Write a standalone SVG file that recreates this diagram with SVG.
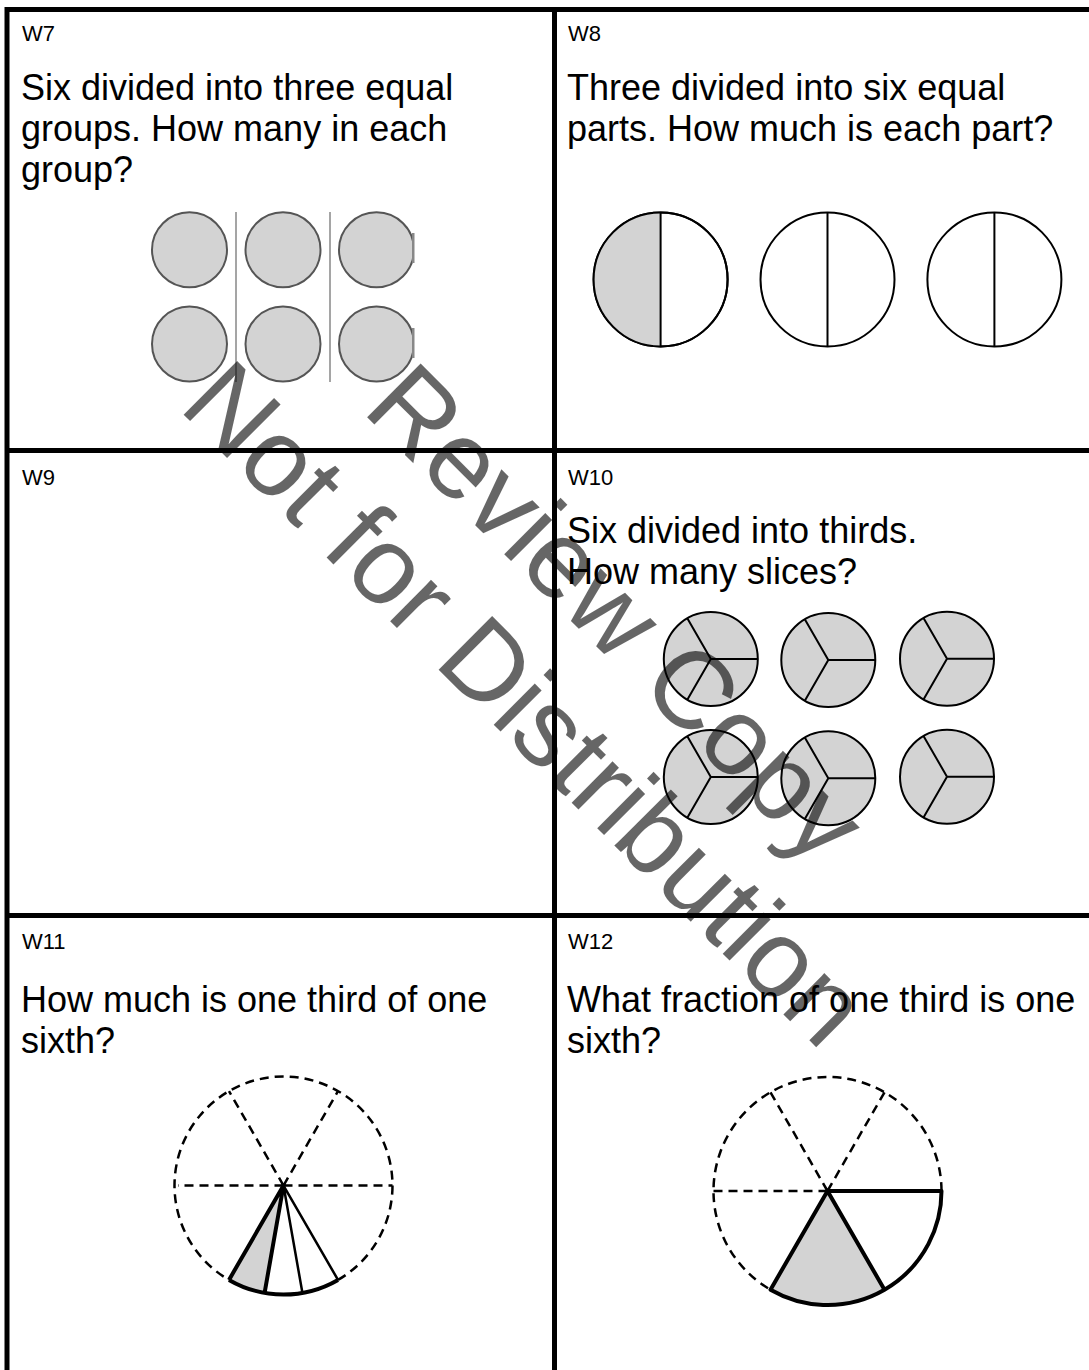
<svg xmlns="http://www.w3.org/2000/svg" width="1089" height="1370" viewBox="0 0 1089 1370">
<defs>
<style>
.lbl{font-family:"Liberation Sans",Arial,sans-serif;font-size:22px;fill:#000}
.q{font-family:"Liberation Sans",Arial,sans-serif;font-size:36px;fill:#000}
.grid{stroke:#000;stroke-width:5;fill:none}
.dot{fill:#d3d3d3;stroke:#555;stroke-width:2}
.half{fill:#fff;stroke:#000;stroke-width:2}
.tri{fill:#d3d3d3;stroke:#000;stroke-width:2}
.ln{stroke:#000;stroke-width:2;fill:none}
.dash{stroke:#000;stroke-width:2.5;fill:none;stroke-dasharray:9 6}
.thick{stroke:#000;stroke-width:4;fill:none;stroke-linejoin:round}
.thin{stroke:#000;stroke-width:2.5;fill:none}
.wm{font-family:"Liberation Sans",Arial,sans-serif;font-size:110px;fill:#000;fill-opacity:0.6}
</style>
<clipPath id="clipR"><rect x="300" y="200" width="114" height="200"/></clipPath>
<g id="third3">
<circle cx="0" cy="0" r="47" class="tri"/>
<path d="M0,0 L47,0 M0,0 L-23.5,-40.7 M0,0 L-23.5,40.7" class="ln"/>
</g>
</defs>
<rect width="1089" height="1370" fill="#fff"/>

<g id="grid">
<path class="grid" d="M7,9.5 H1089 M7,7 V1370 M554.5,7 V1370 M7,450.5 H1089 M7,915.5 H1089"/>
</g>

<g id="W7">
<text class="lbl" x="22" y="41">W7</text>
<text class="q" x="21" y="100">Six divided into three equal</text>
<text class="q" x="21" y="141">groups. How many in each</text>
<text class="q" x="21" y="182">group?</text>
<circle class="dot" cx="189.5" cy="249.7" r="37.5"/>
<circle class="dot" cx="283" cy="249.7" r="37.5"/>
<circle class="dot" cx="376.5" cy="249.7" r="37.5" clip-path="url(#clipR)"/>
<circle class="dot" cx="189.5" cy="344" r="37.5"/>
<circle class="dot" cx="283" cy="344" r="37.5"/>
<circle class="dot" cx="376.5" cy="344" r="37.5" clip-path="url(#clipR)"/>
<rect x="412" y="233" width="2.5" height="30" fill="#888"/>
<rect x="412" y="328" width="2.5" height="30" fill="#888"/>
<path d="M236,212 V382 M330,212 V382" stroke="#888" stroke-width="1.5"/>
</g>

<g id="W8">
<text class="lbl" x="568" y="41">W8</text>
<text class="q" x="567" y="100">Three divided into six equal</text>
<text class="q" x="567" y="141">parts. How much is each part?</text>
<circle class="half" cx="660.6" cy="279.5" r="67"/>
<path d="M660.6,212.5 A67,67 0 0 0 660.6,346.5 Z" fill="#d3d3d3"/>
<circle class="ln" cx="660.6" cy="279.5" r="67"/>
<path class="ln" d="M660.6,212.5 V346.5"/>
<circle class="half" cx="827.5" cy="279.5" r="67"/>
<path class="ln" d="M827.5,212.5 V346.5"/>
<circle class="half" cx="994.4" cy="279.5" r="67"/>
<path class="ln" d="M994.4,212.5 V346.5"/>
</g>

<g id="W9">
<text class="lbl" x="22" y="485">W9</text>
</g>

<g id="W10">
<text class="lbl" x="568" y="485">W10</text>
<text class="q" x="567" y="543">Six divided into thirds.</text>
<text class="q" x="567" y="584">How many slices?</text>
<use href="#third3" x="710.8" y="659"/>
<use href="#third3" x="828.3" y="660"/>
<use href="#third3" x="947" y="658.7"/>
<use href="#third3" x="710.8" y="777"/>
<use href="#third3" x="828.3" y="778.3"/>
<use href="#third3" x="947" y="776.7"/>
</g>

<g id="W11">
<text class="lbl" x="22" y="949">W11</text>
<text class="q" x="21" y="1012">How much is one third of one</text>
<text class="q" x="21" y="1053">sixth?</text>
<path d="M283.5,1185.5 L229,1279.9 A109,109 0 0 0 264.6,1292.8 Z" fill="#d3d3d3"/>
<path class="dash" d="M338,1279.9 A109,109 0 1 0 229,1279.9"/>
<path class="dash" d="M283.5,1185.5 L392.5,1185.5 M283.5,1185.5 L338,1091.1 M283.5,1185.5 L229,1091.1 M283.5,1185.5 L178,1185.5"/>
<path class="thick" d="M229,1279.9 A109,109 0 0 0 338,1279.9"/>
<path class="thick" d="M229,1279.9 L283.5,1185.5 L264.6,1292.8"/>
<path class="thin" d="M283.5,1185.5 L302.4,1292.8 M283.5,1185.5 L338,1279.9"/>
</g>

<g id="W12">
<text class="lbl" x="568" y="949">W12</text>
<text class="q" x="567" y="1012">What fraction of one third is one</text>
<text class="q" x="567" y="1053">sixth?</text>
<path d="M827.5,1191 L770.5,1289.7 A114,114 0 0 0 884.5,1289.7 Z" fill="#d3d3d3"/>
<path class="dash" d="M941.5,1191 A114,114 0 1 0 770.5,1289.7"/>
<path class="dash" d="M827.5,1191 L884.5,1092.3 M827.5,1191 L770.5,1092.3 M827.5,1191 L710,1191"/>
<path class="thick" d="M770.5,1289.7 A114,114 0 0 0 941.5,1191 L827.5,1191 Z M827.5,1191 L884.5,1289.7"/>
</g>

<g id="watermark" transform="translate(544.5,685) rotate(45)">
<text class="wm" x="0" y="-64" text-anchor="middle">Review Copy</text>
<text class="wm" x="0" y="64" text-anchor="middle">Not for Distribution</text>
</g>
</svg>
